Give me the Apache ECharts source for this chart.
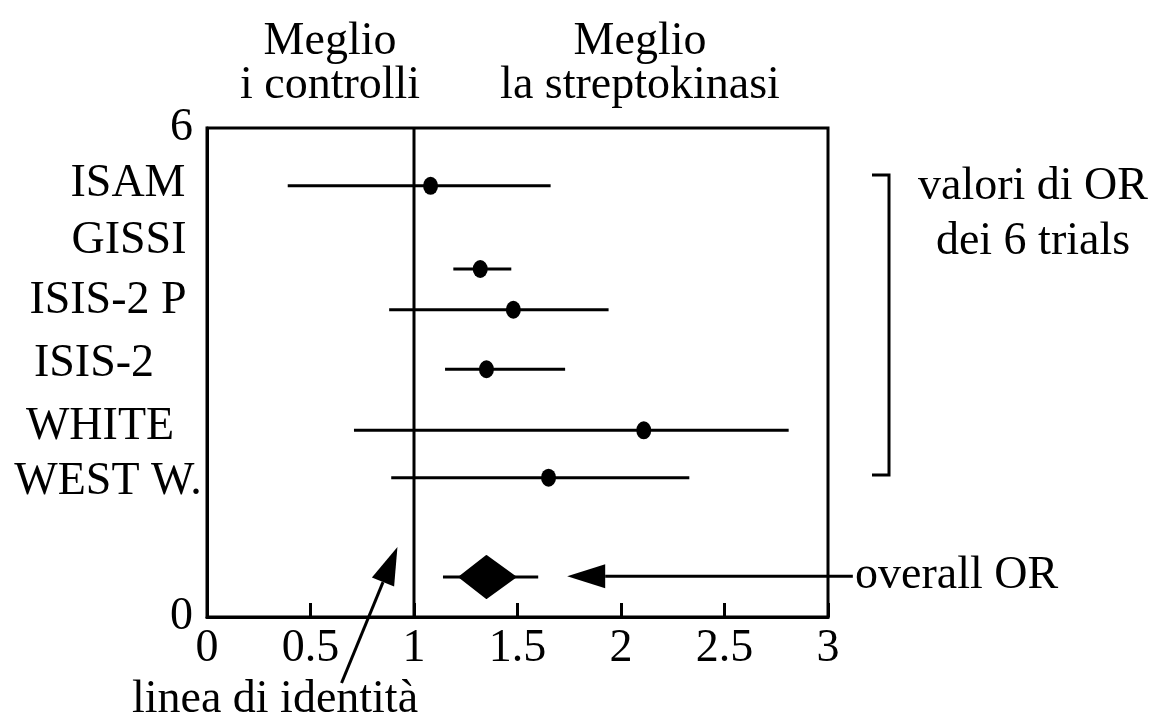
<!DOCTYPE html>
<html>
<head>
<meta charset="utf-8">
<script src="https://cdn.jsdelivr.net/npm/echarts@6/dist/echarts.min.js"></script>
<style>
  html, body { margin: 0; padding: 0; background: #fff; }
  #chart { width: 1161px; height: 728px; }
</style>
</head>
<body>
<div id="chart"></div>
<script>
// Odds ratios of the six streptokinase trials (y = row position on the plot)
const trials   = ['ISAM', 'GISSI', 'ISIS-2 P', 'ISIS-2', 'WHITE', 'WEST W.'];
const orValue  = [1.08, 1.32, 1.48, 1.35, 2.11, 1.65];
const ciLow    = [0.39, 1.19, 0.88, 1.15, 0.71, 0.89];
const ciHigh   = [1.66, 1.47, 1.94, 1.73, 2.81, 2.33];
const rowY     = [5.29, 4.27, 3.77, 3.04, 2.29, 1.71];

// Pooled estimate
const overallOR   = 1.35;
const overallY    = 0.49;
const overallCI   = [1.14, 1.60];
const overallBody = [1.22, 1.49];

// Axis ticks
const xTicks = [0, 0.5, 1, 1.5, 2, 2.5, 3];
const yTicks = [0, 6];
const identityX = 1;

// Annotation arrows in data units: [from, to]
const overallArrow  = [[3.12, 0.50], [1.74, 0.50]];
const identityArrow = [[0.65, -0.81], [0.92, 0.86]];
const arrows = [overallArrow, identityArrow];

const FONT = '"Liberation Serif", "Times New Roman", serif';
const FS = 46;

const chart = echarts.init(document.getElementById('chart'), null, { renderer: 'canvas' });

// Straight shaft with a filled triangular head at the "to" end
function arrowItem(params, api) {
  const a = arrows[params.dataIndex];
  const p0 = api.coord(a[0]);
  const p1 = api.coord(a[1]);
  const dx = p1[0] - p0[0], dy = p1[1] - p0[1];
  const len = Math.sqrt(dx * dx + dy * dy);
  const ux = dx / len, uy = dy / len;
  const headLen = 38, headHalf = 12;
  const bx = p1[0] - ux * headLen, by = p1[1] - uy * headLen;
  return {
    type: 'group',
    children: [
      { type: 'line', shape: { x1: p0[0], y1: p0[1], x2: bx, y2: by },
        style: { stroke: '#000', lineWidth: 3 } },
      { type: 'polygon', shape: { points: [
          [p1[0], p1[1]],
          [bx - uy * headHalf, by + ux * headHalf],
          [bx + uy * headHalf, by - ux * headHalf]
        ] }, style: { fill: '#000' } }
    ]
  };
}

function label(text, x, y, align) {
  return { type: 'text', x: x, y: y,
           style: { text: text, font: FS + 'px ' + FONT, fill: '#000',
                    align: align || 'center', verticalAlign: 'middle' } };
}

const option = {
  backgroundColor: '#fff',
  animation: false,
  grid: { left: 207, right: 333, top: 128, bottom: 111, show: true,
          borderColor: '#000', borderWidth: 3, backgroundColor: 'transparent' },
  xAxis: {
    type: 'value', min: 0, max: 3, interval: 0.5,
    axisLine: { show: true, lineStyle: { color: '#000', width: 3 } },
    axisTick: { show: true, inside: true, length: 14, lineStyle: { color: '#000', width: 3 } },
    splitLine: { show: false },
    axisLabel: { color: '#000', fontFamily: FONT, fontSize: FS, margin: 9,
                 formatter: v => xTicks.includes(v) ? String(v) : '' }
  },
  yAxis: {
    type: 'value', min: 0, max: 6, interval: 6,
    axisLine: { show: true, lineStyle: { color: '#000', width: 3 } },
    axisTick: { show: false },
    splitLine: { show: false },
    axisLabel: { color: '#000', fontFamily: FONT, fontSize: FS, margin: 14,
                 formatter: v => yTicks.includes(v) ? String(v) : '' }
  },
  series: [
    { // line of identity
      type: 'custom', silent: true,
      data: [[identityX]],
      renderItem: (params, api) => {
        const a = api.coord([identityX, 0]);
        const b = api.coord([identityX, 6]);
        return { type: 'line', shape: { x1: a[0], y1: a[1], x2: b[0], y2: b[1] },
                 style: { stroke: '#000', lineWidth: 3 } };
      }
    },
    { // confidence intervals
      type: 'custom', silent: true,
      data: trials.map((t, i) => [ciLow[i], ciHigh[i], rowY[i]]),
      renderItem: (params, api) => {
        const a = api.coord([api.value(0), api.value(2)]);
        const b = api.coord([api.value(1), api.value(2)]);
        return { type: 'line', shape: { x1: a[0], y1: a[1], x2: b[0], y2: b[1] },
                 style: { stroke: '#000', lineWidth: 3 } };
      }
    },
    { // point estimates
      type: 'scatter', silent: true,
      symbol: 'circle', symbolSize: [15, 18],
      itemStyle: { color: '#000', opacity: 1 },
      data: trials.map((t, i) => [orValue[i], rowY[i]])
    },
    { // pooled estimate: whiskers and diamond
      type: 'custom', silent: true,
      data: [[overallOR, overallY]],
      renderItem: (params, api) => {
        const c = api.coord([overallOR, overallY]);
        const l = api.coord([overallCI[0], overallY]);
        const r = api.coord([overallCI[1], overallY]);
        const bl = api.coord([overallBody[0], overallY]);
        const br = api.coord([overallBody[1], overallY]);
        const h = 21;
        return { type: 'group', children: [
          { type: 'line', shape: { x1: l[0], y1: l[1], x2: r[0], y2: r[1] },
            style: { stroke: '#000', lineWidth: 3 } },
          { type: 'polygon', shape: { points: [
              [bl[0], c[1]], [c[0], c[1] - h], [br[0], c[1]], [c[0], c[1] + h]
            ] }, style: { fill: '#000', stroke: '#000', lineWidth: 2, lineJoin: 'round' } }
        ] };
      }
    },
    { // annotation arrows
      type: 'custom', silent: true, clip: false,
      data: arrows.map((a, i) => [i]),
      renderItem: arrowItem
    }
  ],
  graphic: [
    // trial names
    label('ISAM', 128, 184),
    label('GISSI', 129, 241),
    label('ISIS-2 P', 108, 301),
    label('ISIS-2', 94, 364),
    label('WHITE', 100, 427),
    label('WEST W.', 108, 482),
    // column headers
    label('Meglio', 330, 42),
    label('i controlli', 330, 86),
    label('Meglio', 640, 42),
    label('la streptokinasi', 640, 86),
    // bracket around the trials
    { type: 'polyline', shape: { points: [[872, 175], [889, 175], [889, 475], [872, 475]] },
      style: { stroke: '#000', lineWidth: 3, fill: null } },
    label('valori di OR', 1033, 187),
    label('dei 6 trials', 1033, 242),
    // annotation labels
    label('overall OR', 855, 576, 'left'),
    label('linea di identità', 275, 700)
  ]
};

chart.setOption(option);
</script>
</body>
</html>
